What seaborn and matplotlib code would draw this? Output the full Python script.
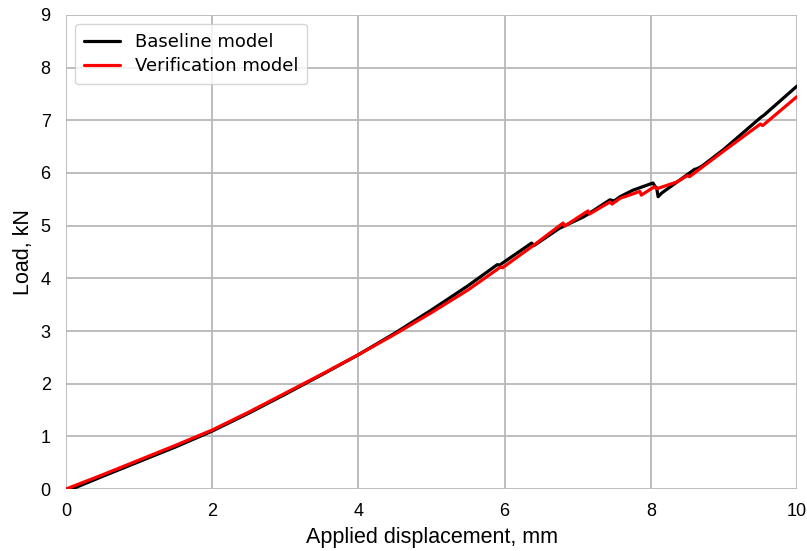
import matplotlib
matplotlib.use("Agg")
import matplotlib.pyplot as plt
import seaborn as sns
import pandas as pd

base_x = [0.0, 0.1, 0.5, 1.0, 1.5, 2.0, 2.5, 3.0, 3.5, 4.0, 4.5, 5.0, 5.5, 5.9, 5.93, 6.37, 6.4,
          6.75, 7.07, 7.12, 7.44, 7.5, 7.58, 7.75, 8.03, 8.06, 8.08, 8.1, 8.15, 8.36, 8.6, 8.63,
          8.7, 9.0, 9.5, 9.55, 10.0]
base_y = [0.0, 0.01, 0.24, 0.52, 0.8, 1.1, 1.44, 1.8, 2.17, 2.55, 2.96, 3.4, 3.86, 4.26, 4.25,
          4.67, 4.62, 4.95, 5.16, 5.2, 5.49, 5.47, 5.55, 5.67, 5.81, 5.74, 5.72, 5.55, 5.62, 5.83,
          6.07, 6.08, 6.13, 6.45, 7.05, 7.1, 7.65]

ver_x = [0.0, 0.5, 1.0, 1.5, 2.0, 2.5, 3.0, 3.5, 4.0, 4.5, 5.0, 5.5, 5.95, 5.97, 6.4, 6.8,
         6.82, 7.14, 7.16, 7.44, 7.47, 7.58, 7.85, 7.87, 8.05, 8.08, 8.36, 8.5, 8.53, 9.0, 9.5,
         9.53, 10.0]
ver_y = [0.0, 0.27, 0.55, 0.83, 1.12, 1.46, 1.82, 2.18, 2.55, 2.94, 3.35, 3.78, 4.22, 4.2, 4.63,
         5.05, 4.99, 5.28, 5.22, 5.45, 5.41, 5.52, 5.65, 5.58, 5.74, 5.7, 5.83, 5.95, 5.93, 6.42,
         6.93, 6.9, 7.45]

x_ticks = [0, 2, 4, 6, 8, 10]
y_ticks = [0, 1, 2, 3, 4, 5, 6, 7, 8, 9]

df = pd.concat([
    pd.DataFrame({"x": base_x, "y": base_y, "model": "Baseline model"}),
    pd.DataFrame({"x": ver_x, "y": ver_y, "model": "Verification model"}),
])

sns.set_style("whitegrid", {"grid.color": "#b8b8b8"})
plt.rcParams["font.family"] = ["Liberation Sans", "DejaVu Sans"]
plt.rcParams["text.color"] = "black"
plt.rcParams["axes.labelcolor"] = "black"
plt.rcParams["xtick.color"] = "black"
plt.rcParams["ytick.color"] = "black"

fig = plt.figure(figsize=(8.07, 5.51), dpi=100)
ax = fig.add_axes([0.0818, 0.1125, 0.9058, 0.8603])

sns.lineplot(data=df, x="x", y="y", hue="model", sort=False, estimator=None,
             palette={"Baseline model": "black", "Verification model": "red"},
             linewidth=2.3, ax=ax)

ax.set_xlim(0, 10)
ax.set_ylim(0, 9)
ax.set_xticks(x_ticks)
ax.set_yticks(y_ticks)
ax.tick_params(labelsize=13, length=0)
ax.tick_params(axis="x", pad=10)
ax.tick_params(axis="y", pad=11)
ax.grid(True, color="#b8b8b8", linewidth=1.3)
for s in ax.spines.values():
    s.set_visible(False)
ax.set_xlabel("Applied displacement, mm", fontsize=15.5, labelpad=5)
ax.set_ylabel("Load, kN", fontsize=15.5, labelpad=5)

leg = ax.legend(loc="upper left", prop={"family": "DejaVu Sans", "size": 13},
                handlelength=2.0, borderpad=0.5, labelspacing=0.35, frameon=True)
leg.get_frame().set_edgecolor("#cccccc")
for t in leg.get_texts():
    t.set_color("black")

fig.savefig("out.png", dpi=100)
